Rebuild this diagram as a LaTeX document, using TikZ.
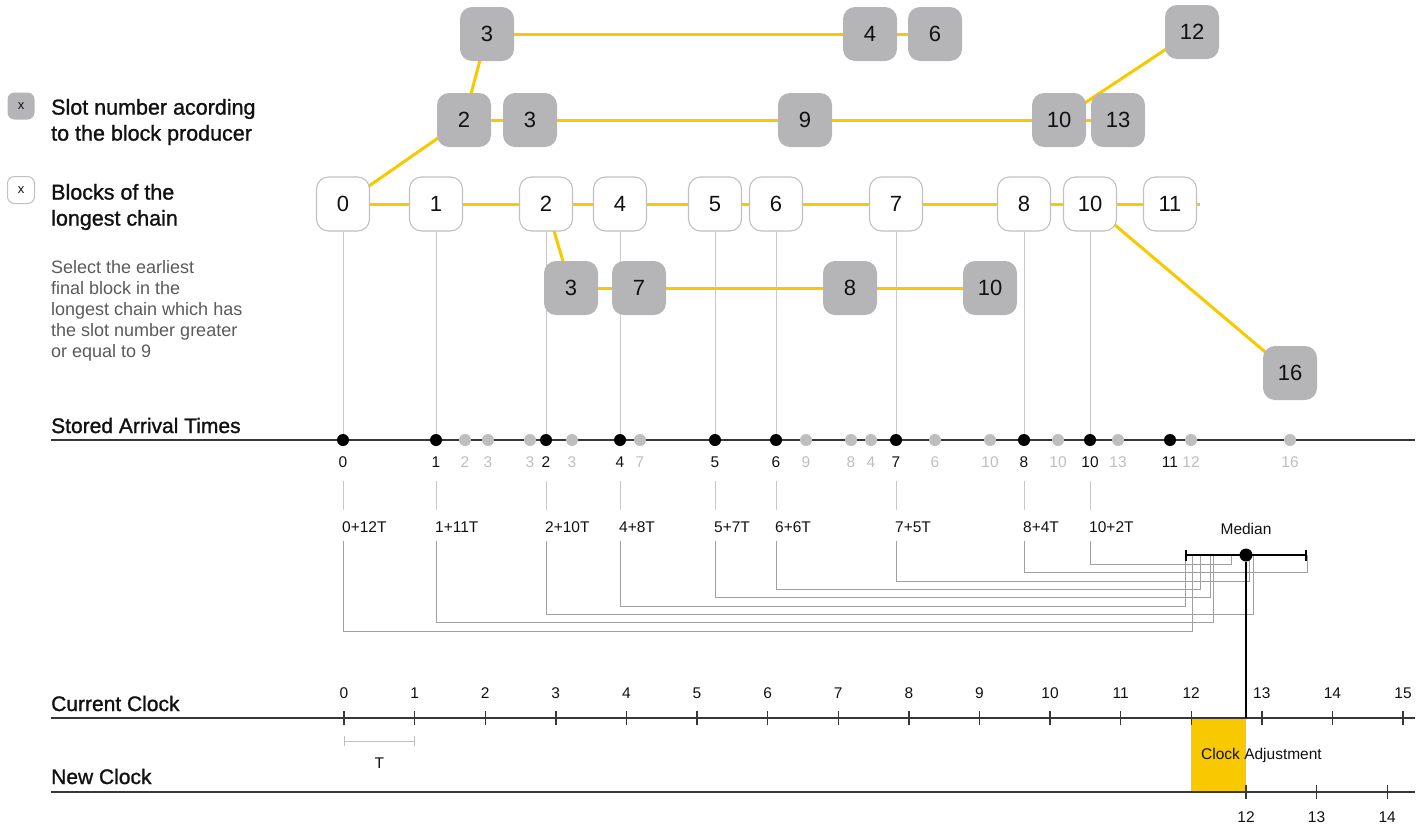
\documentclass[tikz,border=0pt]{standalone}
\usepackage{fontspec}
\setmainfont{Liberation Sans}
\newfontfamily\medfont{Liberation Sans}[FakeBold=1.2]
\usetikzlibrary{arrows.meta,positioning,calc,backgrounds}

\definecolor{chainyellow}{RGB}{249,201,0}
\definecolor{slotgray}{RGB}{181,181,183}
\definecolor{rimgray}{RGB}{192,192,192}
\definecolor{fadegray}{RGB}{190,190,190}
\definecolor{dropgray}{RGB}{200,200,200}
\definecolor{elbowgray}{RGB}{160,160,160}
\definecolor{axisgray}{RGB}{55,55,55}
\definecolor{notegray}{RGB}{90,90,90}
\definecolor{ink}{RGB}{17,17,17}

\begin{document}
\begin{tikzpicture}[
  x=1pt, y=-1pt,
  every node/.style={inner sep=0pt, text=ink},
  chainbox/.style={draw=rimgray, line width=1.1pt, fill=white, rounded corners=12pt,
    minimum width=53pt, minimum height=54pt, font=\fontsize{22}{26}\selectfont},
  slotbox/.style={fill=slotgray, rounded corners=12pt,
    minimum width=54pt, minimum height=54pt, font=\fontsize{22}{26}\selectfont},
  keybox/.style={minimum width=27pt, minimum height=27pt, rounded corners=7pt,
    font=\fontsize{13}{15}\selectfont},
  heading/.style={font=\medfont\fontsize{21.5}{26}\selectfont, align=left, anchor=west},
  note/.style={font=\fontsize{18}{21}\selectfont, text=notegray, align=left},
  rowlabel/.style={font=\medfont\fontsize{21}{26}\selectfont, anchor=base west},
  small/.style={font=\fontsize{15.5}{18}\selectfont},
  link/.style={draw=chainyellow, line width=3pt},
  drop/.style={draw=dropgray, line width=1pt},
  elbow/.style={draw=elbowgray, line width=1pt},
  axis/.style={draw=axisgray, line width=2pt},
  spanline/.style={draw=fadegray, line width=1pt, arrows={Bar[width=10pt]-Bar[width=10pt]}},
  medbar/.style={draw=black, line width=1.8pt, arrows={Bar[width=11pt]-Bar[width=11pt]}},
  bdot/.style={circle, fill=black, minimum size=12pt,
    label={[small, yshift=-10pt]below:#1}},
  gdot/.style={circle, fill=fadegray, minimum size=12pt,
    label={[small, text=fadegray, yshift=-10pt]below:#1}},
  sumlab/.style={small, anchor=west},
  cmark/.style={fill=axisgray, minimum width=1.4pt, minimum height=14pt,
    label={[small, yshift=12pt]above:#1}},
  nmark/.style={fill=axisgray, minimum width=1.4pt, minimum height=14pt,
    label={[small, yshift=-12pt]below:#1}}
]
\useasboundingbox (0,0) rectangle (1427,828);

% --- Legend
\node[keybox, fill=slotgray] (keyslot) at (21,106) {x};
\node[heading] (slotnote) at (51,122) {Slot number acording\\to the block producer};
\node[keybox, draw=rimgray, line width=1pt, fill=white] (keychain) at (21,190) {x};
\node[heading] (chainnote) at (51,207) {Blocks of the\\longest chain};
\node[note, below right=30pt and 0pt of chainnote.south west] (rulenote)
  {Select the earliest\\final block in the\\longest chain which has\\the slot number greater\\or equal to 9};

% --- Blocks of the longest chain
\node[chainbox] (c0)  at (343,204)  {0};
\node[chainbox] (c1)  at (436,204)  {1};
\node[chainbox] (c2)  at (546,204)  {2};
\node[chainbox] (c4)  at (620,204)  {4};
\node[chainbox] (c5)  at (715,204)  {5};
\node[chainbox] (c6)  at (776,204)  {6};
\node[chainbox] (c7)  at (896,204)  {7};
\node[chainbox] (c8)  at (1024,204) {8};
\node[chainbox] (c10) at (1090,204) {10};
\node[chainbox] (c11) at (1170,204) {11};
\coordinate (c11tail) at (1200,204);

% --- Slot numbers of the forks
\node[slotbox] (t3)  at (487,34)   {3};
\node[slotbox] (t4)  at (870,34)   {4};
\node[slotbox] (t6)  at (935,34)   {6};
\node[slotbox] (t12) at (1192,32)  {12};
\node[slotbox] (m2)  at (464,120)  {2};
\node[slotbox] (m3)  at (530,120)  {3};
\node[slotbox] (m9)  at (805,120)  {9};
\node[slotbox] (m10) at (1059,120) {10};
\node[slotbox] (m13) at (1118,120) {13};
\node[slotbox] (l3)  at (571,288)  {3};
\node[slotbox] (l7)  at (639,288)  {7};
\node[slotbox] (l8)  at (850,288)  {8};
\node[slotbox] (l10) at (990,288)  {10};
\node[slotbox] (s16) at (1290,373) {16};

% --- Stored arrival times
\coordinate (satL) at (51,440);
\coordinate (satR) at (1415,440);
\draw[axis] (satL) -- (satR);
\node[rowlabel] (satlabel) at (51,433) {Stored Arrival Times};

\node[bdot=0]  (arr0)  at (343,440)  {};
\node[bdot=1]  (arr1)  at (436,440)  {};
\node[bdot=2]  (arr2)  at (546,440)  {};
\node[bdot=4]  (arr4)  at (620,440)  {};
\node[bdot=5]  (arr5)  at (715,440)  {};
\node[bdot=6]  (arr6)  at (776,440)  {};
\node[bdot=7]  (arr7)  at (896,440)  {};
\node[bdot=8]  (arr8)  at (1024,440) {};
\node[bdot=10] (arr10) at (1090,440) {};
\node[bdot=11] (arr11) at (1170,440) {};

\node[gdot=2]  (g1)  at (465,440)  {};
\node[gdot=3]  (g2)  at (488,440)  {};
\node[gdot=3]  (g3)  at (530,440)  {};
\node[gdot=3]  (g4)  at (572,440)  {};
\node[gdot=7]  (g5)  at (640,440)  {};
\node[gdot=9]  (g6)  at (806,440)  {};
\node[gdot=8]  (g7)  at (851,440)  {};
\node[gdot=4]  (g8)  at (871,440)  {};
\node[gdot=6]  (g9)  at (935,440)  {};
\node[gdot=10] (g10) at (990,440)  {};
\node[gdot=10] (g11) at (1058,440) {};
\node[gdot=13] (g12) at (1118,440) {};
\node[gdot=12] (g13) at (1191,440) {};
\node[gdot=16] (g14) at (1290,440) {};

% --- Local time estimates
\node[sumlab] (sum0)  at (342,527)  {0+12T};
\node[sumlab] (sum1)  at (435,527)  {1+11T};
\node[sumlab] (sum2)  at (545,527)  {2+10T};
\node[sumlab] (sum4)  at (619,527)  {4+8T};
\node[sumlab] (sum5)  at (714,527)  {5+7T};
\node[sumlab] (sum6)  at (775,527)  {6+6T};
\node[sumlab] (sum7)  at (895,527)  {7+5T};
\node[sumlab] (sum8)  at (1023,527) {8+4T};
\node[sumlab] (sum10) at (1089,527) {10+2T};

\draw[drop] ($(arr0)+(0,41)$)  -- ($(sum0.north west)+(1,-11)$);
\draw[drop] ($(arr1)+(0,41)$)  -- ($(sum1.north west)+(1,-11)$);
\draw[drop] ($(arr2)+(0,41)$)  -- ($(sum2.north west)+(1,-11)$);
\draw[drop] ($(arr4)+(0,41)$)  -- ($(sum4.north west)+(1,-11)$);
\draw[drop] ($(arr5)+(0,41)$)  -- ($(sum5.north west)+(1,-11)$);
\draw[drop] ($(arr6)+(0,41)$)  -- ($(sum6.north west)+(1,-11)$);
\draw[drop] ($(arr7)+(0,41)$)  -- ($(sum7.north west)+(1,-11)$);
\draw[drop] ($(arr8)+(0,41)$)  -- ($(sum8.north west)+(1,-11)$);
\draw[drop] ($(arr10)+(0,41)$) -- ($(sum10.north west)+(1,-11)$);

% --- Median of the estimates
\coordinate (mk0)  at (1192,555);
\coordinate (mk1)  at (1213,555);
\coordinate (mk2)  at (1253,555);
\coordinate (mk4)  at (1185,555);
\coordinate (mk5)  at (1210,555);
\coordinate (mk6)  at (1200,555);
\coordinate (mk7)  at (1249,555);
\coordinate (mk8)  at (1307,555);
\coordinate (mk10) at (1231,555);

\draw[elbow] ($(sum0.south west)+(1,8)$)  |- ($(mk0)+(0,76)$)  -- (mk0);
\draw[elbow] ($(sum1.south west)+(1,8)$)  |- ($(mk1)+(0,67)$)  -- (mk1);
\draw[elbow] ($(sum2.south west)+(1,8)$)  |- ($(mk2)+(0,59)$)  -- (mk2);
\draw[elbow] ($(sum4.south west)+(1,8)$)  |- ($(mk4)+(0,51)$)  -- (mk4);
\draw[elbow] ($(sum5.south west)+(1,8)$)  |- ($(mk5)+(0,42)$)  -- (mk5);
\draw[elbow] ($(sum6.south west)+(1,8)$)  |- ($(mk6)+(0,34)$)  -- (mk6);
\draw[elbow] ($(sum7.south west)+(1,8)$)  |- ($(mk7)+(0,26)$)  -- (mk7);
\draw[elbow] ($(sum8.south west)+(1,8)$)  |- ($(mk8)+(0,17)$)  -- (mk8);
\draw[elbow] ($(sum10.south west)+(1,8)$) |- ($(mk10)+(0,9)$)  -- (mk10);

\draw[medbar] (mk4) -- (mk8);
\node[circle, fill=black, minimum size=13pt,
  label={[small, yshift=13pt]above:Median}] (median) at (1246,555) {};

% --- Current clock
\coordinate (ccL) at (51,718);
\coordinate (ccR) at (1415,718);
\draw[axis] (ccL) -- (ccR);
\node[rowlabel] (cclabel) at (51,711) {Current Clock};
\node[cmark=0]  (k0)  at (344,718)    {};
\node[cmark=1]  (k1)  at (414.6,718)  {};
\node[cmark=2]  (k2)  at (485.2,718)  {};
\node[cmark=3]  (k3)  at (555.8,718)  {};
\node[cmark=4]  (k4)  at (626.4,718)  {};
\node[cmark=5]  (k5)  at (697,718)    {};
\node[cmark=6]  (k6)  at (767.6,718)  {};
\node[cmark=7]  (k7)  at (838.2,718)  {};
\node[cmark=8]  (k8)  at (908.8,718)  {};
\node[cmark=9]  (k9)  at (979.4,718)  {};
\node[cmark=10] (k10) at (1050,718)   {};
\node[cmark=11] (k11) at (1120.6,718) {};
\node[cmark=12] (k12) at (1191.2,718) {};
\node[cmark=13] (k13) at (1261.8,718) {};
\node[cmark=14] (k14) at (1332.4,718) {};
\node[cmark=15] (k15) at (1403,718)   {};

\draw[spanline] ($(k0)+(0,23)$) -- ($(k1)+(0,23)$)
  node[midway, below=16pt, small] (period) {T};

% --- New clock
\coordinate (ncL) at (51,792);
\coordinate (ncR) at (1415,792);
\draw[axis] (ncL) -- (ncR);
\node[rowlabel] (nclabel) at (51,784) {New Clock};
\node[nmark=12] (n12) at (1246,792)   {};
\node[nmark=13] (n13) at (1316.6,792) {};
\node[nmark=14] (n14) at (1387.2,792) {};

\draw[black, line width=2pt] (median) -- (median |- k12);
\node[small, anchor=west] (adjust) at (1201,755) {Clock Adjustment};

% --- Connectors behind the boxes
\begin{scope}[on background layer]
\fill[chainyellow] (k12.center) rectangle (n12.center);

\draw[drop] (c0)  -- (arr0);
\draw[drop] (c1)  -- (arr1);
\draw[drop] (c2)  -- (arr2);
\draw[drop] (c4)  -- (arr4);
\draw[drop] (c5)  -- (arr5);
\draw[drop] (c6)  -- (arr6);
\draw[drop] (c7)  -- (arr7);
\draw[drop] (c8)  -- (arr8);
\draw[drop] (c10) -- (arr10);

\draw[link] (c0) -- (c1) -- (c2) -- (c4) -- (c5) -- (c6) -- (c7) -- (c8) -- (c10) -- (c11);
\draw[link] (c11) -- (c11tail);
\draw[link] (c0.center) -- (m2.center);
\draw[link] (m2.center) -- (t3.center);
\draw[link] (t3) -- (t4) -- (t6);
\draw[link] (m2) -- (m3) -- (m9) -- (m10) -- (m13);
\draw[link] (m10.center) -- (t12.center);
\draw[link] (c2.center) -- (l3.center);
\draw[link] (l3) -- (l7) -- (l8) -- (l10);
\draw[link] (c10.center) -- (s16.center);
\end{scope}

\end{tikzpicture}
\end{document}
